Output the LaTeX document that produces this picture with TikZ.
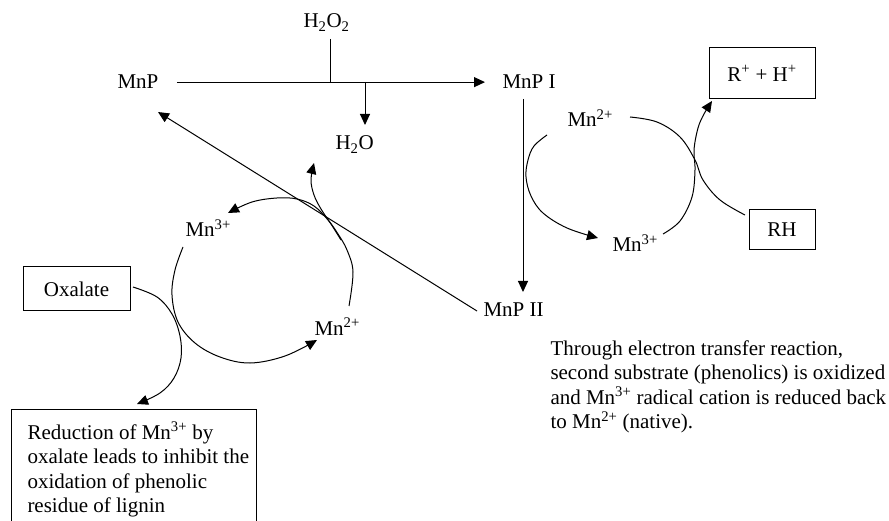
\documentclass[tikz,border=0pt]{standalone}
\usepackage{fontspec}
\setmainfont{Liberation Serif}
\usetikzlibrary{arrows.meta}
\begin{document}
\begin{tikzpicture}[x=1pt,y=-1pt,
  font=\fontsize{21}{24.5}\selectfont,
  line width=1pt,
  arr/.style={-{Triangle[length=11pt,width=10pt]}},
  lbl/.style={inner sep=0pt, anchor=base west},
  para/.style={inner sep=0pt, anchor=north west, align=left},
  box/.style={draw, line width=1pt, inner sep=0pt}]
\useasboundingbox (0,0) rectangle (889,521);

% labels
\node[lbl] (h2o2) at (303,28) {H\textsubscript{2}O\textsubscript{2}};
\node[lbl] (mnp)  at (117,89) {MnP};
\node[lbl] (mnp1) at (502,89) {MnP I};
\node[lbl] (h2o)  at (335,150) {H\textsubscript{2}O};
\node[lbl] (mnp2) at (483,317) {MnP II};
\node[lbl] (rmn2) at (567,127) {Mn\textsuperscript{2+}};
\node[lbl] (rmn3) at (612,252) {Mn\textsuperscript{3+}};
\node[lbl] (lmn3) at (185,237) {Mn\textsuperscript{3+}};
\node[lbl] (lmn2) at (314,335) {Mn\textsuperscript{2+}};

% boxes
\node[box, minimum width=107pt, minimum height=44pt] (oxal) at (76.5,289) {Oxalate};
\node[box, minimum width=106pt, minimum height=51pt] (rh2) at (762,73.5) {R\textsuperscript{+} + H\textsuperscript{+}};
\node[box, minimum width=66pt, minimum height=40pt] (rh) at (782,230) {RH};
\node[box, anchor=north west, minimum width=245pt, minimum height=135pt] (redbox) at (11,409) {};
\node[para] (redtext) at (27,421.5) {Reduction of Mn\textsuperscript{3+} by\\oxalate leads to inhibit the\\oxidation of phenolic\\residue of lignin};
\node[para] (note) at (550,340) {Through electron transfer reaction,\\second substrate (phenolics) is oxidized\\and Mn\textsuperscript{3+} radical cation is reduced back\\to Mn\textsuperscript{2+} (native).};

% coordinates
\coordinate (jn) at (330,82);
\coordinate (h2top) at (330,39);
\coordinate (wstart) at (365,82);
\coordinate (wend) at (365,125);
\coordinate (vtop) at (523,99);
\coordinate (vbot) at (523,292);
\coordinate (d2) at (477,311);
\coordinate (d1) at (158,112);

% main straight connectors
\draw[arr] ([xshift=18pt]mnp.east) -- ([xshift=-17pt]mnp1.west);
\draw (h2top) -- (jn);
\draw[arr] (wstart) -- (wend);
\draw[arr] (vtop) -- (vbot);
\draw[arr] (d2) -- (d1);

% left cycle
\draw[arr] plot[smooth, tension=0.6] coordinates {(349,306) (353,272) (347,250) (338,234) (328,220) (314,206) (297,199) (277,198) (252,202) (228,213)};
\draw[arr] plot[smooth, tension=0.6] coordinates {(341,240) (331,224) (321,209) (314,195) (311,180) (314,163)};
\draw[arr] plot[smooth, tension=0.6] coordinates {(183,247) (175,270) (172,295) (178,322) (195,343) (220,357) (250,363) (285,356) (317,340)};
\draw[arr] plot[smooth, tension=0.6] coordinates {(133,287) (157,297) (172,314) (180,336) (181,358) (174,378) (160,393) (137,404)};

% right cycle
\draw[arr] plot[smooth, tension=0.6] coordinates {(547,135) (534,146) (528,160) (526,177) (531,196) (543,213) (567,228) (598,238)};
\draw[arr] plot[smooth, tension=0.6] coordinates {(663,234) (680,221) (692,197) (695,170) (694,150) (698,128) (704,114) (712,101)};
\draw plot[smooth, tension=0.6] coordinates {(630,117) (657,122) (680,137) (695,160) (703,180) (720,200) (745,215)};
\end{tikzpicture}
\end{document}
